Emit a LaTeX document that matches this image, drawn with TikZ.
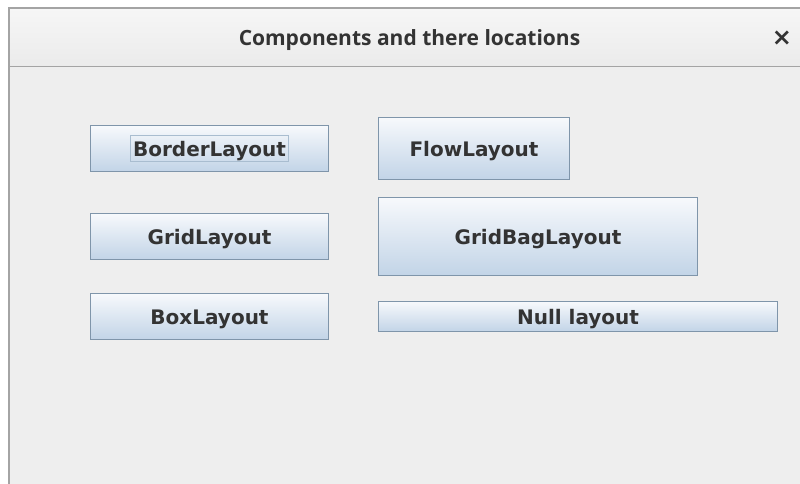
\documentclass[tikz,border=0pt]{standalone}
\usepackage{fontspec}
\setmainfont{DejaVu Sans}
\newfontfamily\titlefont{Open Sans}
\usetikzlibrary{positioning,shapes}
\definecolor{winbg}{HTML}{EEEEEE}
\definecolor{winline}{HTML}{A4A4A4}
\definecolor{bartop}{HTML}{F6F6F6}
\definecolor{barbot}{HTML}{EBEBEB}
\definecolor{btnborder}{HTML}{7F95AA}
\definecolor{btntop}{HTML}{F7F9FC}
\definecolor{btnbot}{HTML}{C2D4E7}
\definecolor{btntext}{HTML}{333333}
\definecolor{focusline}{HTML}{A9BDD0}
\tikzset{
  jbutton/.style args={#1,#2}{
  draw=btnborder,
  line width=1pt,
  top color=btntop,
  bottom color=btnbot,
  minimum width=#1 pt,
  minimum height=#2 pt,
  inner sep=0pt,
  text height=16pt,
  text depth=0pt,
  font=\bfseries\fontsize{20}{24}\selectfont,
  text=btntext
  },
  focusbox/.style={draw=focusline,line width=0.8pt,inner xsep=2.5pt,inner ysep=5.3pt,
  text height=16pt,text depth=0pt,
  font=\bfseries\fontsize{20}{24}\selectfont,text=btntext},
  wintitle/.style={font=\titlefont\bfseries\fontsize{21}{25}\selectfont,text=btntext,
  text height=15pt,text depth=0pt,inner sep=0pt}
}
\begin{document}
\begin{tikzpicture}[x=1pt,y=-1pt]
  \useasboundingbox (0,0) rectangle (800,484);
  \fill[white] (0,0) rectangle (800,484);
  % window and title bar
  \fill[winbg] (9,8) rectangle (800,484);
  \shade[top color=bartop,bottom color=barbot] (9,8) rectangle (800,67);
  \draw[winline,line width=1.2pt] (9,484) -- (9,8) -- (800,8);
  \draw[winline,line width=1pt] (9,67) -- (800,67);
  \node[wintitle] (title) at (409.5,38.4) {Components and there locations};
  \node[font=\bfseries\fontsize{24}{28}\selectfont,text=btntext,inner sep=0pt] (close) at (782,38) {×};

  % left column
  \node[jbutton={238,46}] (border) at (209.5,148.5) {};
  \node[focusbox] (borderfocus) at (border.center) {BorderLayout};
  \node[jbutton={238,46}] (grid) at (209.5,236.5) {GridLayout};
  \node[jbutton={238,46}] (box) at (209.5,316.5) {BoxLayout};

  % right column
  \node[jbutton={191,62}] (flow) at (474,148.5) {FlowLayout};
  \node[jbutton={319,78}] (gridbag) at (538,236.5) {GridBagLayout};
  \node[jbutton={399,30}] (null) at (578,316.5) {Null layout};
\end{tikzpicture}
\end{document}
